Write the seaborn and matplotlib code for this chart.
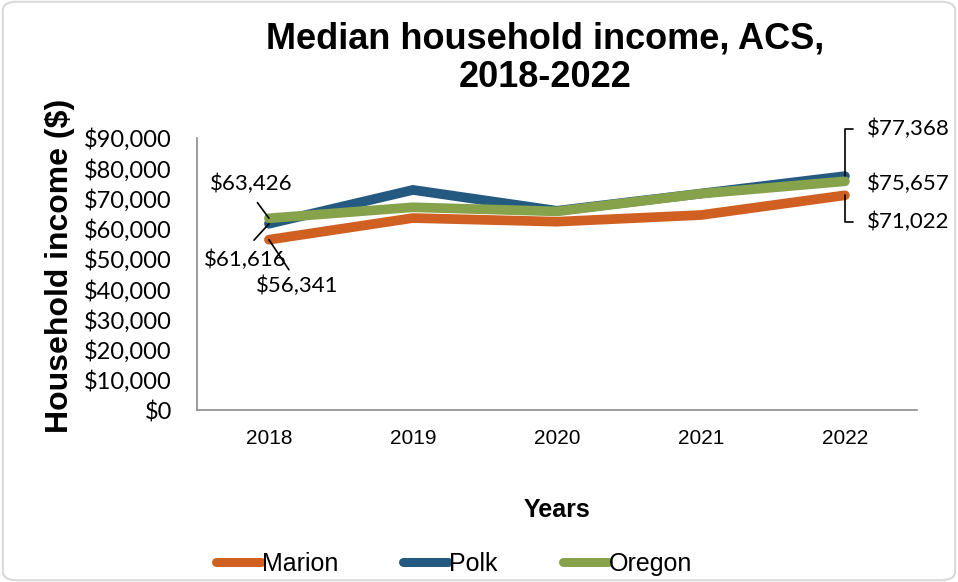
import pandas as pd
import seaborn as sns
import matplotlib.pyplot as plt
from matplotlib.patches import FancyBboxPatch
from matplotlib.ticker import FuncFormatter

years = ["2018", "2019", "2020", "2021", "2022"]
marion = [56341, 63500, 62300, 64500, 71022]
polk = [61616, 72800, 65900, 71600, 77368]
oregon = [63426, 67058, 65700, 71562, 75657]

series = ["Marion", "Polk", "Oregon"]
colors = ["#D05F22", "#255A80", "#86A34B"]

df = pd.DataFrame({"Years": years * 3,
                   "income": marion + polk + oregon,
                   "area": sum([[s] * 5 for s in series], [])})
df["x"] = list(range(5)) * 3

sns.set_style("white")
plt.rcParams["font.family"] = ["Liberation Sans", "DejaVu Sans"]
plt.rcParams["text.color"] = "black"
plt.rcParams["axes.labelcolor"] = "black"
plt.rcParams["xtick.labelcolor"] = "black"
plt.rcParams["ytick.labelcolor"] = "black"

fig = plt.figure(figsize=(9.58, 5.82), dpi=100)
ax = fig.add_axes([0.2056, 0.2955, 0.7515, 0.4675])

sns.lineplot(data=df, x="x", y="income", hue="area", palette=colors,
             linewidth=7, ax=ax, legend=False, sort=False)
for ln in ax.get_lines():
    ln.set_solid_capstyle("round")
    ln.set_solid_joinstyle("miter")

ax.set_xlim(-0.5, 4.5)
ax.set_ylim(0, 90000)
ax.set_yticks(range(0, 90001, 10000))
ax.yaxis.set_major_formatter(FuncFormatter(lambda v, p: "${:,.0f}".format(v)))
ax.set_xticks(range(5))
ax.set_xticklabels(years)
ax.set_xticks([i - 0.5 for i in range(6)], minor=True)
ax.tick_params(axis="x", which="major", length=0, pad=14, labelsize=15)
ax.tick_params(axis="x", which="minor", length=6, color="#8c8c8c", width=1.2)
ax.tick_params(axis="y", length=7, color="#8c8c8c", width=1.2, labelsize=17, pad=11)
for lab in ax.get_yticklabels():
    lab.set_family(["Lato", "DejaVu Sans"])
for s in ["top", "right"]:
    ax.spines[s].set_visible(False)
for s in ["left", "bottom"]:
    ax.spines[s].set_color("#8c8c8c")
    ax.spines[s].set_linewidth(1.2)

ax.set_xlabel("Years", fontsize=18, fontweight="bold", labelpad=36)
ax.set_ylabel("Household income ($)", fontsize=23, fontweight="bold")
ax.yaxis.set_label_coords(-0.17, 0.53)
fig.text(0.569, 0.9, "Median household income, ACS,\n2018-2022", ha="center",
         va="center", fontsize=26, fontweight="bold", linespacing=1.15)

lab_font = dict(fontsize=16, family=["Lato", "DejaVu Sans"])
line = dict(arrowstyle="-", color="black", lw=1.2, shrinkA=0, shrinkB=0)
ax.annotate("${:,}".format(oregon[0]), (0, oregon[0]), xytext=(-13, 25),
            textcoords="offset points", ha="center", va="center", **lab_font,
            arrowprops=dict(line, relpos=(0.5, 0), shrinkA=5))
ax.annotate("${:,}".format(polk[0]), (0, polk[0]), xytext=(-17, -26),
            textcoords="offset points", ha="center", va="center", **lab_font,
            arrowprops=dict(line, relpos=(0.5, 1), shrinkA=6))
ax.annotate("${:,}".format(marion[0]), (0, marion[0]), xytext=(20, -33),
            textcoords="offset points", ha="center", va="center", **lab_font,
            arrowprops=dict(line, relpos=(0.45, 1), shrinkA=2))
ax.annotate("${:,}".format(polk[4]), (4, polk[4]), xytext=(16, 34),
            textcoords="offset points", ha="left", va="center", **lab_font,
            arrowprops=dict(line, connectionstyle="angle,angleA=0,angleB=90,rad=0",
                            relpos=(0, 0.5), shrinkA=8))
ax.annotate("${:,}".format(oregon[4]), (4, oregon[4]), xytext=(16, -2),
            textcoords="offset points", ha="left", va="center", **lab_font)
ax.annotate("${:,}".format(marion[4]), (4, marion[4]), xytext=(16, -19),
            textcoords="offset points", ha="left", va="center", **lab_font,
            arrowprops=dict(line, connectionstyle="angle,angleA=0,angleB=90,rad=0",
                            relpos=(0, 0.5), shrinkA=8))

handles = [plt.Line2D([], [], color=c, lw=6.5, solid_capstyle="round") for c in colors]
fig.legend(handles, series, loc="center", bbox_to_anchor=(0.474, 0.031), ncol=3,
           frameon=False, fontsize=18, handlelength=1.8, handletextpad=0.05,
           columnspacing=2.6)

fig.patches.append(FancyBboxPatch((0.003, 0.003), 0.994, 0.994,
                                  boxstyle="round,pad=0,rounding_size=0.015",
                                  transform=fig.transFigure, fill=False,
                                  edgecolor="#d9d9d9", lw=1.5))

fig.savefig("out.png", dpi=100)
